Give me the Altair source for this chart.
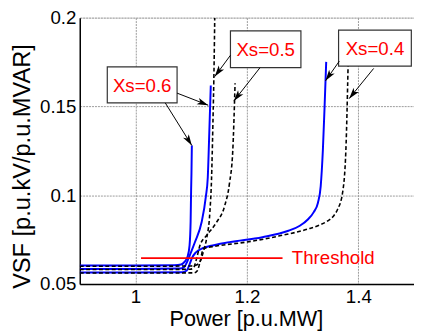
import math
import altair as alt
import pandas as pd

FONT = "Liberation Sans"

# axis ranges and ticks
x_min, x_max = 0.9, 1.5
y_min, y_max = 0.05, 0.2
x_ticks = [1.0, 1.2, 1.4]
y_ticks = [0.05, 0.1, 0.15, 0.2]
W, H = 340, 271

# blue solid curves
blue1_x = [0.9, 1.0, 1.07, 1.082, 1.088, 1.0936, 1.0971, 1.099, 1.0999, 1.1005, 1.1012]
blue1_y = [0.0605, 0.0605, 0.0606, 0.061, 0.0625, 0.0655, 0.0718, 0.085, 0.1031, 0.112, 0.128]

blue2_x = [0.9, 1.0, 1.08, 1.088, 1.0953, 1.101, 1.107, 1.1188, 1.1264, 1.1298, 1.132, 1.1352]
blue2_y = [0.0585, 0.0585, 0.0587, 0.0598, 0.0644, 0.069, 0.0738, 0.0849, 0.0994, 0.11, 0.13, 0.1618]

blue3_x = [0.9, 1.0, 1.085, 1.092, 1.097, 1.102, 1.108, 1.1218, 1.1335, 1.1688, 1.2277,
           1.2746, 1.295, 1.3099, 1.32, 1.3276, 1.3325, 1.3364, 1.3395, 1.3424]
blue3_y = [0.0565, 0.0565, 0.0567, 0.0576, 0.061, 0.065, 0.0677, 0.0703, 0.0714, 0.0736, 0.0764,
           0.08, 0.0828, 0.0865, 0.0905, 0.0958, 0.105, 0.1253, 0.15, 0.1751]

# black dashed curves
black1_x = [0.9, 1.0, 1.1, 1.108, 1.1158, 1.1218, 1.1276, 1.1335, 1.1365, 1.139, 1.1412, 1.1423]
black1_y = [0.0600, 0.0600, 0.0602, 0.0606, 0.0626, 0.0681, 0.0755, 0.0902, 0.1087, 0.14, 0.175, 0.2]

black2_x = [0.9, 1.0, 1.098, 1.104, 1.109, 1.1158, 1.1276, 1.1453, 1.16, 1.1688, 1.1747, 1.1788]
black2_y = [0.0582, 0.0582, 0.0583, 0.059, 0.0635, 0.0718, 0.0773, 0.0847, 0.0939, 0.1068, 0.1253, 0.1631]

black3_x = [0.9, 1.0, 1.105, 1.111, 1.116, 1.1218, 1.1453, 1.1982, 1.257, 1.3099, 1.33, 1.3452,
            1.356, 1.3629, 1.3717, 1.3777, 1.3817]
black3_y = [0.0562, 0.0562, 0.0563, 0.0575, 0.0625, 0.0699, 0.0714, 0.0736, 0.077, 0.081, 0.0832,
            0.0856, 0.0885, 0.0921, 0.1013, 0.1253, 0.1733]

# threshold
thr_x = [1.01, 1.264]
thr_y = 0.0646
thr_label = "Threshold"
thr_label_x = 1.2806

# annotation boxes
box_labels = ["Xs=0.6", "Xs=0.5", "Xs=0.4"]
box_x0 = [0.9494, 1.1705, 1.3646]
box_x1 = [1.0747, 1.2970, 1.4952]
box_y0 = [0.1520, 0.1719, 0.1727]
box_y1 = [0.1723, 0.1926, 0.1930]

# arrows: start -> tip
arr_x0 = [1.0747, 1.0535, 1.1705, 1.2235, 1.3659, 1.4276]
arr_y0 = [0.1575, 0.1520, 0.1788, 0.1718, 0.1755, 0.1714]
arr_x1 = [1.1306, 1.1012, 1.1423, 1.1765, 1.3411, 1.3835]
arr_y1 = [0.1507, 0.1280, 0.1668, 0.1530, 0.1644, 0.1544]


def curve_df(name, xs, ys):
    return pd.DataFrame({"curve": name, "x": xs, "y": ys, "o": list(range(len(xs)))})


blue_df = pd.concat([curve_df("b1", blue1_x, blue1_y), curve_df("b2", blue2_x, blue2_y),
                     curve_df("b3", blue3_x, blue3_y)])
black_df = pd.concat([curve_df("k1", black1_x, black1_y), curve_df("k2", black2_x, black2_y),
                      curve_df("k3", black3_x, black3_y)])

xs = alt.Scale(domain=[x_min, x_max], nice=False, zero=False)
ys = alt.Scale(domain=[y_min, y_max], nice=False, zero=False)

x_axis = alt.Axis(values=x_ticks, format="~g", grid=True, gridColor="#9a9a9a", gridDash=[2, 1],
                  gridWidth=1, ticks=False, tickSize=0, domainColor="black", domainWidth=1.5,
                  labelFont=FONT, labelFontSize=19, labelColor="black", labelPadding=4,
                  title="Power [p.u.MW]", titleFont=FONT, titleFontSize=22, titleFontWeight="normal",
                  titleColor="black", titleX=169, titleY=42, titleBaseline="alphabetic")
y_axis = alt.Axis(values=y_ticks, format="~g", grid=True, gridColor="#9a9a9a", gridDash=[2, 1],
                  gridWidth=1, ticks=False, tickSize=0, domainColor="black", domainWidth=1.5,
                  labelFont=FONT, labelFontSize=19, labelColor="black", labelPadding=4,
                  title="VSF [p.u.kV/p.u.MVAR]", titleFont=FONT, titleFontSize=24,
                  titleFontWeight="normal", titleColor="black", titleX=-51, titleY=151,
                  titleBaseline="alphabetic")

blue = alt.Chart(blue_df).mark_line(color="#0000ff", strokeWidth=2, clip=True,
                                    interpolate="monotone").encode(
    x=alt.X("x:Q", scale=xs, axis=x_axis),
    y=alt.Y("y:Q", scale=ys, axis=y_axis),
    detail="curve:N", order="o:Q")

black = alt.Chart(black_df).mark_line(color="black", strokeWidth=1.6, strokeDash=[4, 2.5], clip=True,
                                      interpolate="monotone").encode(
    x=alt.X("x:Q", scale=xs), y=alt.Y("y:Q", scale=ys), detail="curve:N", order="o:Q")

thr_df = pd.DataFrame({"x": [thr_x[0]], "x2": [thr_x[1]], "y": [thr_y]})
thr = alt.Chart(thr_df).mark_rule(color="#ff0000", strokeWidth=2).encode(
    x=alt.X("x:Q", scale=xs), x2="x2:Q", y=alt.Y("y:Q", scale=ys))
thr_text = alt.Chart(pd.DataFrame({"x": [thr_label_x], "y": [thr_y], "t": [thr_label]})).mark_text(
    font=FONT, fontSize=19, color="#ff0000", align="left", baseline="middle").encode(
    x=alt.X("x:Q", scale=xs), y=alt.Y("y:Q", scale=ys), text="t:N")

box_df = pd.DataFrame({"label": box_labels, "x0": box_x0, "x1": box_x1, "y0": box_y0, "y1": box_y1})
box_df["cx"] = (box_df["x0"] + box_df["x1"]) / 2
box_df["cy"] = (box_df["y0"] + box_df["y1"]) / 2
boxes = alt.Chart(box_df).mark_rect(fill="white", stroke="#333333", strokeWidth=1.2).encode(
    x=alt.X("x0:Q", scale=xs), x2="x1:Q", y=alt.Y("y0:Q", scale=ys), y2="y1:Q")
box_text = alt.Chart(box_df).mark_text(font=FONT, fontSize=19, color="#ff0000",
                                       align="center", baseline="middle", dy=1).encode(
    x=alt.X("cx:Q", scale=xs), y=alt.Y("cy:Q", scale=ys), text="label:N")

sx = W / (x_max - x_min)
sy = H / (y_max - y_min)
angles = []
for a, b, c, d in zip(arr_x0, arr_y0, arr_x1, arr_y1):
    dx = (c - a) * sx
    dy = -(d - b) * sy
    angles.append(math.degrees(math.atan2(dx, -dy)) % 360)
arr_df = pd.DataFrame({"x0": arr_x0, "y0": arr_y0, "x1": arr_x1, "y1": arr_y1, "ang": angles})
shafts = alt.Chart(arr_df).mark_rule(color="black", strokeWidth=1).encode(
    x=alt.X("x0:Q", scale=xs), y=alt.Y("y0:Q", scale=ys), x2="x1:Q", y2="y1:Q")
heads = alt.Chart(arr_df).mark_point(shape="M0,0L0.6,2L0,1.5L-0.6,2Z", filled=True,
                                     color="black", opacity=1, size=130).encode(
    x=alt.X("x1:Q", scale=xs), y=alt.Y("y1:Q", scale=ys), angle=alt.Angle("ang:Q", scale=None))

chart = alt.layer(blue, black, thr, thr_text, boxes, box_text, shafts, heads).properties(
    width=W, height=H,
    autosize=alt.AutoSizeParams(type="none"),
    padding={"left": 73, "top": 7, "right": 0, "bottom": 48},
).configure_view(stroke="black", strokeWidth=1.5).configure(background="white")

chart.save("out.html", embed_options={"renderer": "svg", "actions": False})
